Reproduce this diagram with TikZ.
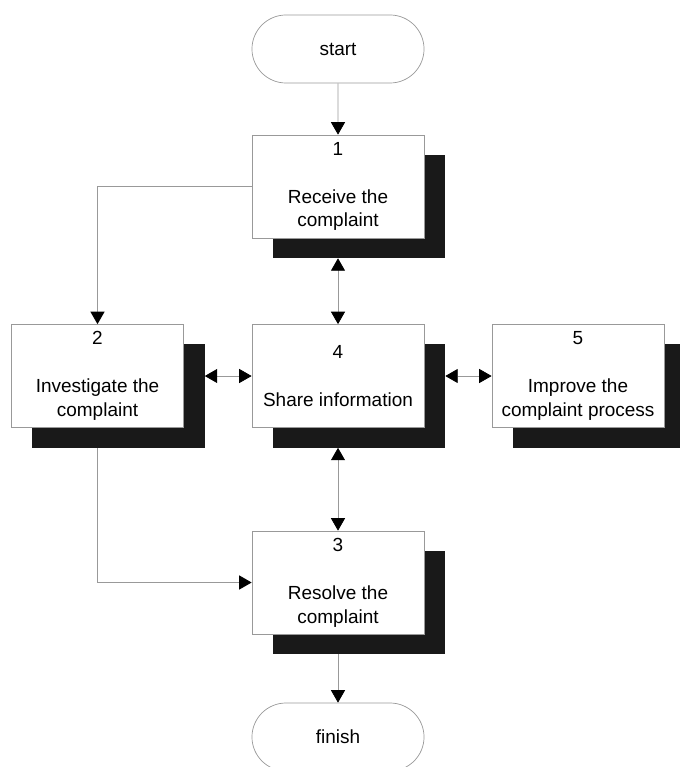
\documentclass[tikz,border=0pt]{standalone}
\usepackage{fontspec}
\setmainfont{Liberation Sans}
\usetikzlibrary{arrows.meta,shapes.misc}
\tikzset{
  stepbox/.style={draw=gray!80,line width=0.5pt,fill=white,minimum width=4.3cm,minimum height=2.575cm,inner sep=0pt,align=center},
  boxshadow/.style={fill=black!90,minimum width=4.3cm,minimum height=2.575cm,inner sep=0pt},
  terminal/.style={draw=gray!80,line width=0.5pt,rounded rectangle,minimum width=4.3cm,minimum height=1.7cm,inner sep=0pt},
  flow/.style={draw=gray!80,line width=0.6pt},
  >={Triangle[length=3.1mm,width=3.5mm,color=black]}
}

\begin{document}
\begin{tikzpicture}[x=0.025cm,y=-0.025cm,font=\fontsize{13.5}{17}\selectfont]
  \useasboundingbox (0,0) rectangle (679,767);
  % shadows first
  \node[boxshadow] (s1) at (359,206.5) {};
  \node[boxshadow] (s2) at (118.5,396) {};
  \node[boxshadow] (s4) at (359,396) {};
  \node[boxshadow] (s5) at (599,396) {};
  \node[boxshadow] (s3) at (359,602.5) {};
  % boxes
  \node[terminal] (start) at (338,49) {start};
  \node[stepbox] (b1) at (338,186.5) {1\\\mbox{}\\Receive the\\complaint};
  \node[stepbox] (b2) at (97.5,376) {2\\\mbox{}\\Investigate the\\complaint};
  \node[stepbox] (b4) at (338,376) {4\\\mbox{}\\Share information};
  \node[stepbox] (b5) at (578,376) {5\\\mbox{}\\Improve the\\complaint process};
  \node[stepbox] (b3) at (338,582.5) {3\\\mbox{}\\Resolve the\\complaint};
  \node[terminal] (finish) at (338,737) {finish};
  % connectors
  \draw[flow,->] (start) -- (b1);
  \draw[flow,->] (b1.west) -| (b2.north);
  \draw[flow,<->] (b1 |- s1.south) -- (b4.north);
  \draw[flow,<->] (s2.east |- b4.west) -- (b4.west);
  \draw[flow,<->] (s4.east |- b5.west) -- (b5.west);
  \draw[flow,<->] (b4 |- s4.south) -- (b3.north);
  \draw[flow,->] (b2 |- s2.south) |- (b3.west);
  \draw[flow,->] (b3 |- s3.south) -- (finish.north);
\end{tikzpicture}
\end{document}
